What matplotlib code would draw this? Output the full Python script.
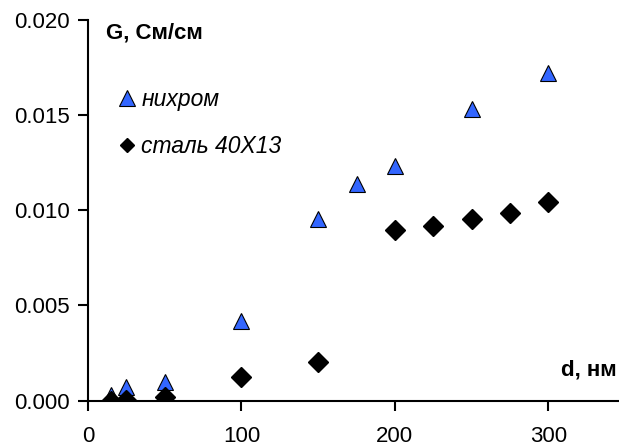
import numpy as np
import matplotlib
matplotlib.use("Agg")
import matplotlib.pyplot as plt

plt.rcParams['font.family'] = ['Liberation Sans', 'DejaVu Sans']

# conductance vs film thickness
d_nichrome = [15, 25, 50, 100, 150, 175, 200, 250, 300]
g_nichrome = [0.0003, 0.0007, 0.00095, 0.00416, 0.00955, 0.01137, 0.01232, 0.01532, 0.01721]

d_steel = [15, 25, 50, 100, 150, 200, 225, 250, 275, 300]
g_steel = [0.0, 0.00005, 0.0002, 0.00124, 0.00203, 0.00895, 0.00916, 0.00956, 0.00984, 0.01046]

x_ticks = [0, 100, 200, 300]
y_ticks = [0.000, 0.005, 0.010, 0.015, 0.020]

fig = plt.figure(figsize=(6.19, 4.46), dpi=100)
ax = fig.add_axes([0.142, 0.102, 0.858, 0.853])

ax.plot(d_nichrome, g_nichrome, '^', ms=11, mfc='#3366ff', mec='black', mew=0.8,
        ls='none', label='нихром', zorder=3)
ax.plot(d_steel, g_steel, 'D', ms=10, mfc='black', mec='black',
        ls='none', label='сталь 40X13', zorder=4)

ax.set_xlim(0, 346)
ax.set_ylim(0, 0.020)
ax.set_xticks(x_ticks)
ax.set_yticks(y_ticks)
ax.set_yticklabels(['%.3f' % v for v in y_ticks])
ax.tick_params(direction='out', length=7, width=1.5, labelsize=16, pad=6)
ax.tick_params(axis='x', pad=11)

for s in ['top', 'right']:
    ax.spines[s].set_visible(False)
for s in ['left', 'bottom']:
    ax.spines[s].set_linewidth(1.5)
ax.spines['left'].set_bounds(0, 0.020)

ax.text(0.035, 0.966, 'G, См/см', transform=ax.transAxes, fontsize=16,
        fontweight='bold', va='center', ha='left')
ax.text(0.995, 0.08, 'd, нм', transform=ax.transAxes, fontsize=16,
        fontweight='bold', va='center', ha='right')

leg = ax.legend(loc='upper left', bbox_to_anchor=(0.04, 0.845), frameon=False,
                prop={'size': 16.5, 'style': 'italic'}, handlelength=0.8,
                handletextpad=0.2, labelspacing=1.05, borderaxespad=0)
leg.legend_handles[0].set_markersize(11)
leg.legend_handles[1].set_markersize(7.5)

fig.savefig('out.png', dpi=100)
